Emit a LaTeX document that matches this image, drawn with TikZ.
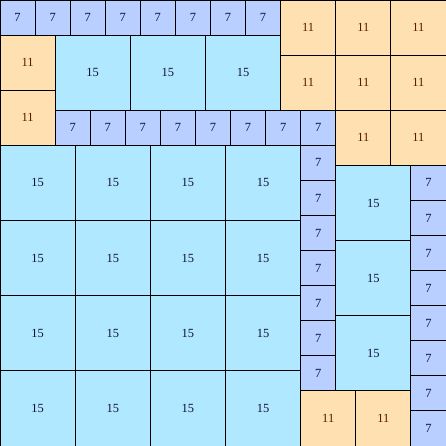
\documentclass[tikz,border=0pt]{standalone}
\usepackage{fontspec}
\setmainfont{Liberation Serif}
\definecolor{cseven}{HTML}{B8CFFF}
\definecolor{cfifteen}{HTML}{B0E8FF}
\definecolor{celeven}{HTML}{FFE0B0}
\definecolor{televen}{HTML}{5A1A00}
\definecolor{tblue}{HTML}{10103A}
\tikzset{
  sqbase/.style={draw=black, line width=0.9bp, inner sep=0pt, outer sep=0pt, anchor=north west, text=tblue, font=\fontsize{12.5}{14}\selectfont},
  sqseven/.style={sqbase, fill=cseven, minimum size=7*5.0112bp},
  sqeleven/.style={sqbase, fill=celeven, text=televen, minimum size=11*5.0112bp},
  sqfifteen/.style={sqbase, fill=cfifteen, minimum size=15*5.0112bp}
}
\begin{document}
\begin{tikzpicture}[x=5.0112bp, y=-5.0112bp]
\useasboundingbox (0,0) rectangle (89,89);
% 7-squares
\foreach \x [count=\i] in {0,7,...,49} \node[sqseven] (sa\i) at (\x,0) {7};
\foreach \x [count=\i] in {11,18,...,60} \node[sqseven] (sb\i) at (\x,22) {7};
\foreach \y [count=\i] in {29,36,...,71} \node[sqseven] (sc\i) at (60,\y) {7};
\foreach \y [count=\i] in {33,40,...,82} \node[sqseven] (sd\i) at (82,\y) {7};
% 11-squares
\foreach \x/\y [count=\i] in {56/0,67/0,78/0,56/11,67/11,78/11,67/22,78/22,0/7,0/18,60/78,71/78}
  \node[sqeleven] (se\i) at (\x,\y) {11};
% 15-squares
\foreach \x/\y [count=\i] in {11/7,26/7,41/7,67/33,67/48,67/63}
  \node[sqfifteen] (sf\i) at (\x,\y) {15};
\foreach \x [count=\i] in {0,15,30,45}
  \foreach \y [count=\j] in {29,44,59,74}
    \node[sqfifteen] (sg\i\j) at (\x,\y) {15};
\end{tikzpicture}
\end{document}
